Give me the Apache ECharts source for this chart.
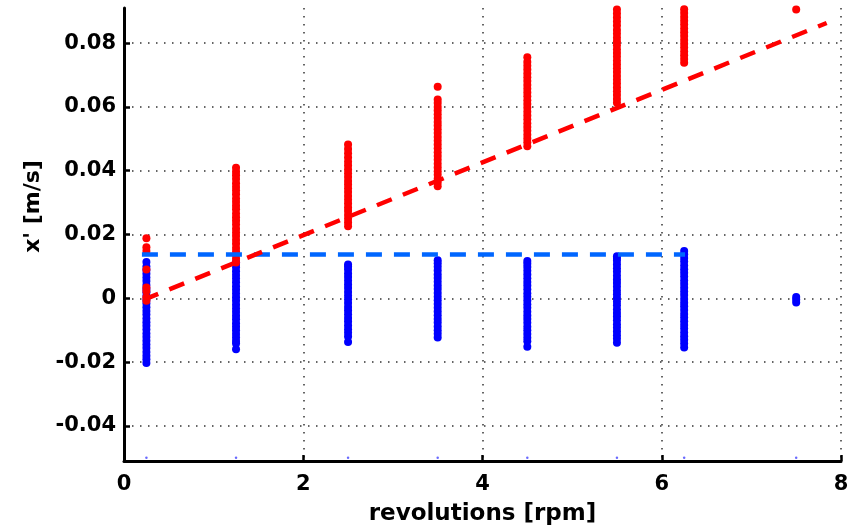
<!DOCTYPE html>
<html>
<head>
<meta charset="utf-8">
<script src="https://cdn.jsdelivr.net/npm/echarts@6/dist/echarts.min.js"></script>
<style>
html,body{margin:0;padding:0;background:#fff;}
#chart{width:854px;height:531px;}
</style>
</head>
<body>
<div id="chart"></div>
<script>
// ---- data ----
const xPositions = [0.25, 1.25, 2.5, 3.5, 4.5, 5.5, 6.25, 7.5];
const xTicks = [0, 2, 4, 6, 8];
const yTicks = [-0.04, -0.02, 0, 0.02, 0.04, 0.06, 0.08];

// red measurements (x' values) per revolution setting
const red025 = [-0.0008, 0.0003, 0.0023, 0.0034, 0.009, 0.0148, 0.016, 0.0188];
const red125 = [0.0112, 0.0124, 0.0136, 0.0147, 0.0158, 0.0171, 0.0183, 0.0195, 0.0206, 0.0218, 0.0231, 0.0243, 0.0254, 0.0266, 0.0279, 0.0290, 0.0302, 0.0313, 0.0326, 0.0338, 0.0349, 0.0361, 0.0374, 0.0386, 0.0397, 0.0409];
const red250 = [0.0226, 0.0238, 0.0249, 0.0261, 0.0274, 0.0285, 0.0297, 0.0309, 0.0321, 0.0333, 0.0345, 0.0357, 0.0368, 0.0380, 0.0392, 0.0404, 0.0416, 0.0428, 0.0441, 0.0455, 0.0468, 0.0482];
const red350 = [0.0351, 0.0363, 0.0375, 0.0387, 0.0398, 0.0410, 0.0422, 0.0434, 0.0446, 0.0458, 0.0470, 0.0482, 0.0494, 0.0506, 0.0518, 0.0530, 0.0542, 0.0553, 0.0565, 0.0577, 0.0589, 0.0600, 0.0612, 0.0623, 0.0663];
const red450 = [0.0477, 0.0489, 0.0501, 0.0513, 0.0525, 0.0537, 0.0549, 0.0561, 0.0573, 0.0585, 0.0597, 0.0609, 0.0621, 0.0633, 0.0645, 0.0657, 0.0669, 0.0681, 0.0693, 0.0705, 0.0717, 0.0729, 0.0741, 0.0756];
const red550 = [0.0613, 0.0625, 0.0637, 0.0649, 0.0661, 0.0673, 0.0685, 0.0697, 0.0709, 0.0721, 0.0733, 0.0745, 0.0757, 0.0769, 0.0781, 0.0793, 0.0805, 0.0817, 0.0829, 0.0841, 0.0855, 0.0868, 0.0880, 0.0893, 0.0905];
const red625 = [0.0738, 0.0750, 0.0762, 0.0774, 0.0786, 0.0798, 0.0810, 0.0822, 0.0834, 0.0846, 0.0858, 0.0870, 0.0882, 0.0894, 0.0906];
const red750 = [0.0905];

// blue measurements per revolution setting
const blue025 = [-0.0203, -0.0191, -0.0180, -0.0168, -0.0156, -0.0145, -0.0133, -0.0121, -0.0110, -0.0098, -0.0086, -0.0075, -0.0063, -0.0051, -0.0040, -0.0028, -0.0016, -0.0005, 0.0007, 0.0019, 0.0030, 0.0042, 0.0054, 0.0065, 0.0077, 0.0089, 0.0100, 0.0114];
const blue125 = [-0.0160, -0.0142, -0.0134, -0.0123, -0.0112, -0.0100, -0.0089, -0.0078, -0.0066, -0.0055, -0.0043, -0.0032, -0.0020, -0.0008, 0.0003, 0.0015, 0.0027, 0.0038, 0.0050, 0.0062, 0.0073, 0.0085, 0.0097, 0.0108, 0.0113];
const blue250 = [-0.0137, -0.0120, -0.0108, -0.0097, -0.0085, -0.0073, -0.0062, -0.0050, -0.0038, -0.0027, -0.0015, -0.0003, 0.0008, 0.0020, 0.0032, 0.0043, 0.0055, 0.0067, 0.0078, 0.0090, 0.0100, 0.0106];
const blue350 = [-0.0123, -0.0111, -0.0100, -0.0088, -0.0076, -0.0065, -0.0053, -0.0041, -0.0030, -0.0018, -0.0006, 0.0005, 0.0017, 0.0029, 0.0040, 0.0052, 0.0064, 0.0075, 0.0087, 0.0099, 0.0110, 0.0119];
const blue450 = [-0.0152, -0.0135, -0.0124, -0.0112, -0.0100, -0.0089, -0.0077, -0.0065, -0.0054, -0.0042, -0.0030, -0.0019, -0.0007, 0.0005, 0.0016, 0.0028, 0.0040, 0.0051, 0.0063, 0.0075, 0.0086, 0.0098, 0.0108, 0.0117];
const blue550 = [-0.0139, -0.0127, -0.0116, -0.0104, -0.0092, -0.0081, -0.0069, -0.0057, -0.0046, -0.0034, -0.0022, -0.0011, 0.0001, 0.0013, 0.0024, 0.0036, 0.0048, 0.0059, 0.0071, 0.0083, 0.0094, 0.0106, 0.0118, 0.0126, 0.0132];
const blue625 = [-0.0154, -0.0142, -0.0130, -0.0119, -0.0107, -0.0095, -0.0084, -0.0072, -0.0060, -0.0049, -0.0037, -0.0025, -0.0014, -0.0002, 0.0010, 0.0021, 0.0033, 0.0045, 0.0056, 0.0068, 0.0080, 0.0091, 0.0103, 0.0115, 0.0126, 0.0138, 0.0148];
const blue750 = [-0.0013, -0.0004, 0.0004];

// faint markers on the lower limit
const floorMarks = [-0.05, -0.05, -0.05, -0.05, -0.05, -0.05, -0.05, -0.05];

// fitted lines (start / end)
const redFitX = [0.216, 7.84];
const redFitY = [-0.0005, 0.0863];
const blueFitX = [0.2, 6.26];
const blueFitY = [0.0137, 0.0137];

// ---- build series data ----
const redCols = [red025, red125, red250, red350, red450, red550, red625, red750];
const blueCols = [blue025, blue125, blue250, blue350, blue450, blue550, blue625, blue750];
function cols(arr) {
  const out = [];
  arr.forEach((vals, i) => vals.forEach(v => out.push([xPositions[i], v])));
  return out;
}
const redData = cols(redCols);
const blueData = cols(blueCols);
const floorData = xPositions.map((x, i) => [x, floorMarks[i]]);
const redFit = redFitX.map((x, i) => [x, redFitY[i]]);
const blueFit = blueFitX.map((x, i) => [x, blueFitY[i]]);

const FONT = 'DejaVu Sans';
const chart = echarts.init(document.getElementById('chart'), null, {renderer: 'canvas'});
chart.setOption({
  animation: false,
  backgroundColor: '#ffffff',
  grid: {left: 124, right: 13, top: 8, bottom: 69, containLabel: false},
  xAxis: {
    type: 'value', min: 0, max: 8, interval: 2,
    name: 'revolutions [rpm]', nameLocation: 'middle', nameGap: 42,
    nameTextStyle: {fontFamily: FONT, fontWeight: 'bold', fontSize: 23, color: '#000'},
    axisLine: {show: true, onZero: false, lineStyle: {color: '#000', width: 3}},
    axisTick: {show: true, inside: true, length: 6, lineStyle: {color: '#000', width: 2.5}},
    axisLabel: {fontFamily: FONT, fontWeight: 'bold', fontSize: 21, color: '#000', margin: 13},
    splitLine: {show: true, showMinLine: false, showMaxLine: true, lineStyle: {color: '#333', width: 1.5, type: [1.5, 6.5]}}
  },
  yAxis: {
    type: 'value', min: -0.051, max: 0.091, splitNumber: 7,
    name: "x' [m/s]", nameLocation: 'middle', nameGap: 78, nameRotate: 90,
    nameTextStyle: {fontFamily: FONT, fontWeight: 'bold', fontSize: 22, color: '#000', padding: [0, 0, 0, 56]},
    axisLine: {show: true, onZero: false, lineStyle: {color: '#000', width: 3}},
    axisTick: {show: true, inside: true, length: 6, customValues: yTicks, lineStyle: {color: '#000', width: 2.5}},
    axisLabel: {fontFamily: FONT, fontWeight: 'bold', fontSize: 21, color: '#000', margin: 8,
      customValues: yTicks,
      formatter: v => String(Math.round(v * 100) / 100)},
    splitLine: {show: true, lineStyle: {color: '#333', width: 1.5, type: [1.5, 6.5]}}
  },
  series: [
    {type: 'scatter', data: floorData, symbol: 'circle', symbolSize: 2.5, itemStyle: {color: '#6a6aff', opacity: 1}, z: 2},
    {type: 'scatter', data: blueData, symbol: 'circle', symbolSize: 8, itemStyle: {color: '#0000ff', opacity: 1}, z: 3},
    {type: 'scatter', data: redData, symbol: 'circle', symbolSize: 8, itemStyle: {color: '#ff0000', opacity: 1}, z: 4},
    {type: 'line', data: blueFit, symbol: 'none', lineStyle: {color: '#0066ff', width: 4.5, type: [16, 12]}, z: 5},
    {type: 'line', data: redFit, symbol: 'none', lineStyle: {color: '#ff0000', width: 4.5, type: [16, 12]}, z: 6}
  ]
});
</script>
</body>
</html>
